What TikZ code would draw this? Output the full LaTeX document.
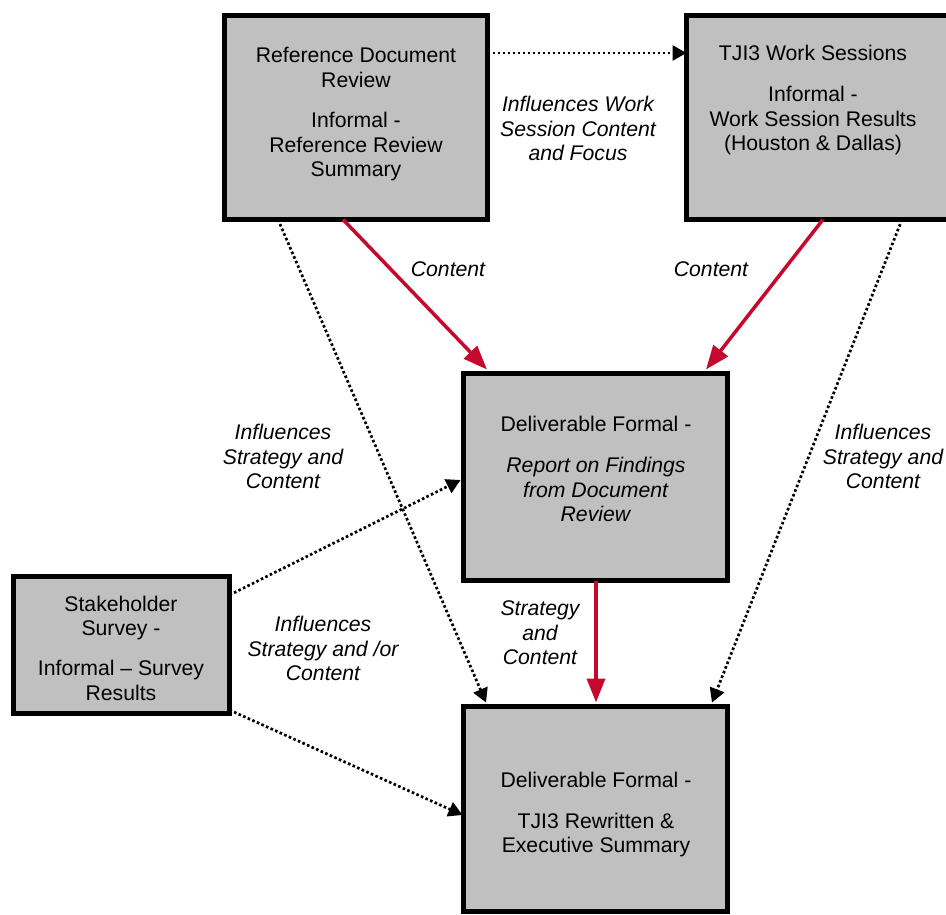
\documentclass[tikz,border=0pt]{standalone}
\usepackage{fontspec}
\setmainfont{Liberation Sans}
\usetikzlibrary{arrows.meta,calc}
\definecolor{boxgray}{RGB}{192,192,192}
\definecolor{arrred}{RGB}{198,8,44}
\begin{document}
\begin{tikzpicture}[x=1pt,y=-1pt,
  box/.style={draw=black,line width=5pt,fill=boxgray,rectangle,inner sep=0pt,outer sep=0pt},
  txt/.style={align=center,font=\fontsize{21.2}{24.5}\selectfont,inner sep=0pt},
  lbl/.style={align=center,font=\fontsize{21.2}{24.5}\selectfont\itshape,inner sep=0pt},
  redarrow/.style={draw=arrred,line width=3.5pt,-{Triangle[length=24pt,width=18pt]}},
  dotarrow/.style={draw=black,line width=2.7pt,dash pattern=on 2.6pt off 2.4pt,-{Triangle[length=14pt,width=15pt]}}
]
\useasboundingbox (0,0) rectangle (946,914);
\clip (0,0) rectangle (946,914);
\fill[white] (0,0) rectangle (946,914);

% boxes
\node[box,minimum width=263pt,minimum height=204pt] (rdr) at (356,117.5) {};
\node[box,minimum width=266pt,minimum height=204pt] (tji) at (819.5,117.5) {};
\node[box,minimum width=264pt,minimum height=207pt] (rep) at (595.5,477) {};
\node[box,minimum width=216pt,minimum height=137pt] (stk) at (121.5,645) {};
\node[box,minimum width=264pt,minimum height=205pt] (tjr) at (595.5,809) {};

% box texts
\node[txt] (rdrT) at (356,114.5) {Reference Document\\Review\\[16pt]Informal -\\Reference Review\\Summary};
\node[txt] (tjiT) at (813,100) {TJI3 Work Sessions\\[17pt]Informal -\\Work Session Results\\(Houston \& Dallas)};
\node[txt] (repT) at (596,469) {Deliverable Formal -\\[17pt]\textit{Report on Findings}\\\textit{from Document}\\\textit{Review}};
\node[txt] (stkT) at (121,648) {Stakeholder\\Survey -\\[15.5pt]Informal – Survey\\Results};
\node[txt] (tjrT) at (596,814.5) {Deliverable Formal -\\[16.5pt]TJI3 Rewritten \&\\Executive Summary};

% connectors
\draw[dotarrow] ([yshift=64.5pt]rdr.east) -- ([yshift=64.5pt]tji.west);
\draw[redarrow] ([xshift=-13pt]rdr.south) -- ([xshift=-108.5pt,yshift=4pt]rep.north);
\draw[redarrow] ([xshift=3.5pt]tji.south) -- ([xshift=110.5pt,yshift=4pt]rep.north);
\draw[redarrow] ([xshift=0.5pt]rep.south) -- ([xshift=0.5pt,yshift=4pt]tjr.north);
\draw[dotarrow] ([xshift=-78pt]rdr.south) -- ([xshift=-109.5pt,yshift=4pt]tjr.north);
\draw[dotarrow] ([xshift=82.5pt]tji.south) -- ([xshift=116.5pt,yshift=4pt]tjr.north);
\draw[dotarrow] ([yshift=50pt]stk.east) -- ([xshift=-3pt,yshift=-3pt]rep.west);
\draw[dotarrow] ([yshift=-65pt]stk.east) -- ([xshift=-1pt,yshift=-6pt]tjr.west);

% labels
\node[lbl] (l1) at (578,128.5) {Influences Work\\Session Content\\and Focus};
\node[lbl] (l2) at (448,269) {Content};
\node[lbl] (l3) at (711,269) {Content};
\node[lbl] (l4) at (283,456.5) {Influences\\Strategy and\\Content};
\node[lbl] (l5) at (883,456.5) {Influences\\Strategy and\\Content};
\node[lbl] (l6) at (323,648.5) {Influences\\Strategy and /or\\Content};
\node[lbl] (l7) at (540,633) {Strategy\\and\\Content};
\end{tikzpicture}
\end{document}
